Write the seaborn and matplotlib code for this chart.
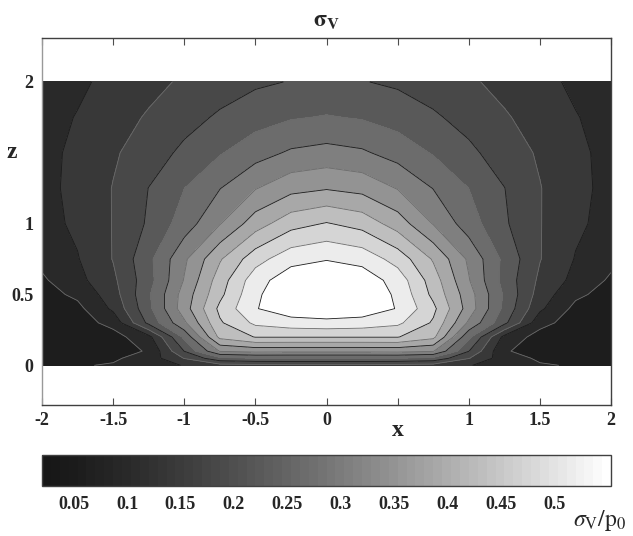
import numpy as np
import matplotlib
matplotlib.use("Agg")
import matplotlib.pyplot as plt
from matplotlib.colors import LinearSegmentedColormap, Normalize
from matplotlib.cm import ScalarMappable
import seaborn as sns

# grid of the contour map (x across, z depth)
x = [-2, -1.75, -1.5, -1.25, -1, -0.75, -0.5, -0.25, 0, 0.25, 0.5, 0.75, 1, 1.25, 1.5, 1.75, 2]
z = [0, 0.05, 0.1, 0.2, 0.3, 0.4, 0.5, 0.6, 0.75, 1.0, 1.25, 1.5, 1.75, 2.0]

# sigma_v / p0, one row per z
sigma_v = [
    [0.052, 0.058, 0.065, 0.08, 0.105, 0.128, 0.132, 0.135, 0.135, 0.135, 0.132, 0.128, 0.105, 0.08, 0.065, 0.058, 0.052],
    [0.045, 0.048, 0.055, 0.08, 0.145, 0.215, 0.225, 0.225, 0.225, 0.225, 0.225, 0.215, 0.145, 0.08, 0.055, 0.048, 0.045],
    [0.038, 0.04, 0.045, 0.065, 0.185, 0.31, 0.32, 0.318, 0.318, 0.318, 0.32, 0.31, 0.185, 0.065, 0.045, 0.04, 0.038],
    [0.036, 0.04, 0.045, 0.09, 0.235, 0.40, 0.432, 0.432, 0.432, 0.432, 0.432, 0.40, 0.235, 0.09, 0.045, 0.04, 0.036],
    [0.036, 0.042, 0.075, 0.195, 0.30, 0.425, 0.48, 0.495, 0.50, 0.495, 0.48, 0.425, 0.30, 0.195, 0.075, 0.042, 0.036],
    [0.038, 0.05, 0.11, 0.215, 0.33, 0.44, 0.51, 0.538, 0.545, 0.538, 0.51, 0.44, 0.33, 0.215, 0.11, 0.05, 0.038],
    [0.045, 0.07, 0.125, 0.22, 0.325, 0.42, 0.505, 0.545, 0.553, 0.545, 0.505, 0.42, 0.325, 0.22, 0.125, 0.07, 0.045],
    [0.055, 0.09, 0.135, 0.21, 0.31, 0.41, 0.495, 0.538, 0.548, 0.538, 0.495, 0.41, 0.31, 0.21, 0.135, 0.09, 0.055],
    [0.072, 0.10, 0.145, 0.215, 0.30, 0.385, 0.455, 0.498, 0.51, 0.498, 0.455, 0.385, 0.30, 0.215, 0.145, 0.10, 0.072],
    [0.088, 0.11, 0.145, 0.19, 0.245, 0.305, 0.37, 0.415, 0.433, 0.415, 0.37, 0.305, 0.245, 0.19, 0.145, 0.11, 0.088],
    [0.092, 0.112, 0.145, 0.185, 0.225, 0.265, 0.305, 0.335, 0.345, 0.335, 0.305, 0.265, 0.225, 0.185, 0.145, 0.112, 0.092],
    [0.092, 0.11, 0.138, 0.165, 0.193, 0.222, 0.25, 0.272, 0.28, 0.272, 0.25, 0.222, 0.193, 0.165, 0.138, 0.11, 0.092],
    [0.09, 0.104, 0.125, 0.148, 0.17, 0.19, 0.208, 0.222, 0.228, 0.222, 0.208, 0.19, 0.17, 0.148, 0.125, 0.104, 0.09],
    [0.088, 0.096, 0.112, 0.13, 0.15, 0.165, 0.178, 0.186, 0.19, 0.186, 0.178, 0.165, 0.15, 0.13, 0.112, 0.096, 0.088],
]

c_min, c_max = 0.0203, 0.5534
contour_levels = [0.0613, 0.1023, 0.1433, 0.1843, 0.2253, 0.2663, 0.3073, 0.3483, 0.3893, 0.4303, 0.4713, 0.5124]
cbar_ticks = [0.05, 0.1, 0.15, 0.2, 0.25, 0.3, 0.35, 0.4, 0.45, 0.5]
x_ticks = [-2, -1.5, -1, -0.5, 0, 0.5, 1, 1.5, 2]
x_tick_labels = ['-2', '-1.5', '-1', '-0.5', '0', '', '1', '1.5', '2']
z_ticks = [0, 0.5, 1, 2]
z_tick_labels = ['0', '0.5', '1', '2']

sns.set_theme(style="white")
plt.rcParams['font.family'] = ['Liberation Serif', 'DejaVu Serif']
plt.rcParams['mathtext.fontset'] = 'stix'

cmap = LinearSegmentedColormap.from_list('grey64', ['#171717', '#ffffff'], N=64, gamma=1.3)
norm = Normalize(c_min, c_max)
# each filled band takes the colour of its upper level
band_tops = contour_levels + [c_max]
band_colors = [cmap(norm(v)) for v in band_tops]

fig = plt.figure(figsize=(6.33, 5.36), dpi=100)
ax = fig.add_axes([0.0664, 0.2444, 0.899, 0.6847])

ax.contourf(x, z, sigma_v, levels=[0.0] + contour_levels + [1.0], colors=band_colors)
line_cols = ['0.42' if i % 2 == 0 else 'k' for i in range(len(contour_levels))]
ax.contour(x, z, sigma_v, levels=contour_levels, colors=line_cols, linewidths=0.6)

ax.set_xlim(-2, 2)
ax.set_ylim(-0.28, 2.31)
ax.set_facecolor('white')
ax.set_xticks(x_ticks)
ax.set_xticklabels(x_tick_labels, fontweight='bold')
ax.set_yticks(z_ticks)
ax.set_yticklabels(z_tick_labels, fontweight='bold')
ax.tick_params(axis='x', direction='in', top=True, bottom=True, length=5, width=0.8,
               color='0.3', labelsize=13, pad=5)
ax.tick_params(axis='y', length=0, labelsize=13, pad=6)
for side in ['top', 'bottom', 'right']:
    ax.spines[side].set_color('0.25')
ax.spines['left'].set_color('0.6')
for s in ax.spines.values():
    s.set_linewidth(1.0)

ax.set_title(r'$\mathbf{\sigma_{V}}$', fontsize=17, pad=8)
fig.text(0.628, 0.196, 'x', fontsize=17, fontweight='bold', ha='center', va='center')
fig.text(0.019, 0.715, 'z', fontsize=17, fontweight='bold', ha='center', va='center')

cax = fig.add_axes([0.0664, 0.0933, 0.899, 0.0578])
sm = ScalarMappable(norm=norm, cmap=cmap)
cb = fig.colorbar(sm, cax=cax, orientation='horizontal', ticks=cbar_ticks)
cb.ax.set_xticklabels([f'{t:g}' for t in cbar_ticks], fontweight='bold')
cb.ax.tick_params(direction='in', top=True, bottom=True, length=4, width=0.8,
                  color='0.3', labelsize=13, pad=7)
cb.outline.set_edgecolor('0.25')
cb.outline.set_linewidth(1.0)
fig.text(0.989, 0.028, r'$\sigma_{\mathrm{V}}/\mathrm{p}_0$', fontsize=17, ha='right', va='center')

fig.savefig('out.png', dpi=100)
